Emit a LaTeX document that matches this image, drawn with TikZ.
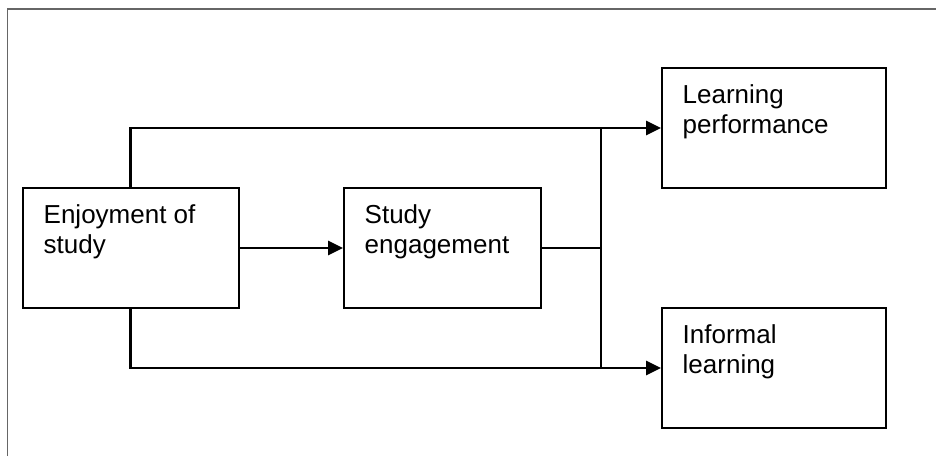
\documentclass[tikz,border=0pt]{standalone}
\usepackage{fontspec}
\setmainfont{Liberation Sans}
\usetikzlibrary{arrows.meta}
\begin{document}
\begin{tikzpicture}[x=1pt,y=-1pt,
  box/.style={draw=black, line width=2pt, inner sep=0pt},
  lbl/.style={inner sep=0pt, anchor=base west, align=left, font=\fontsize{26}{30}\selectfont},
  conn/.style={draw=black, line width=2.8pt},
  arr/.style={conn, -{Triangle[length=15pt,width=14pt]}}]
\useasboundingbox (0,0) rectangle (936,456);
\fill[white] (0,0) rectangle (936,456);
\draw[black!60, line width=1.3pt] (7.5,456) -- (7.5,9) -- (936,9);
% boxes
\node[box, minimum width=215.5pt, minimum height=119.5pt] (enj) at (130.75,248) {};
\node[box, minimum width=197pt, minimum height=120pt] (se) at (442.5,248) {};
\node[box, minimum width=224pt, minimum height=120pt] (lp) at (774,128) {};
\node[box, minimum width=224pt, minimum height=120pt] (il) at (774,368) {};
% texts
\node[lbl] (enjt) at ([shift={(21.5,66)}]enj.north west) {Enjoyment of\\study};
\node[lbl] (set) at ([shift={(21.5,66)}]se.north west) {Study\\engagement};
\node[lbl] (lpt) at ([shift={(21.5,66)}]lp.north west) {Learning\\performance};
\node[lbl] (ilt) at ([shift={(21.5,66)}]il.north west) {Informal\\learning};
% connectors
\coordinate (jx) at (601,248);
\draw[arr] (enj.east) -- (se.west);
\draw[arr] (enj.north) |- (lp.west);
\draw[arr] (enj.south) |- (il.west);
\draw[conn] (se.east) -- (jx);
\draw[conn] (jx |- lp.west) -- (jx |- il.west);
\end{tikzpicture}
\end{document}
